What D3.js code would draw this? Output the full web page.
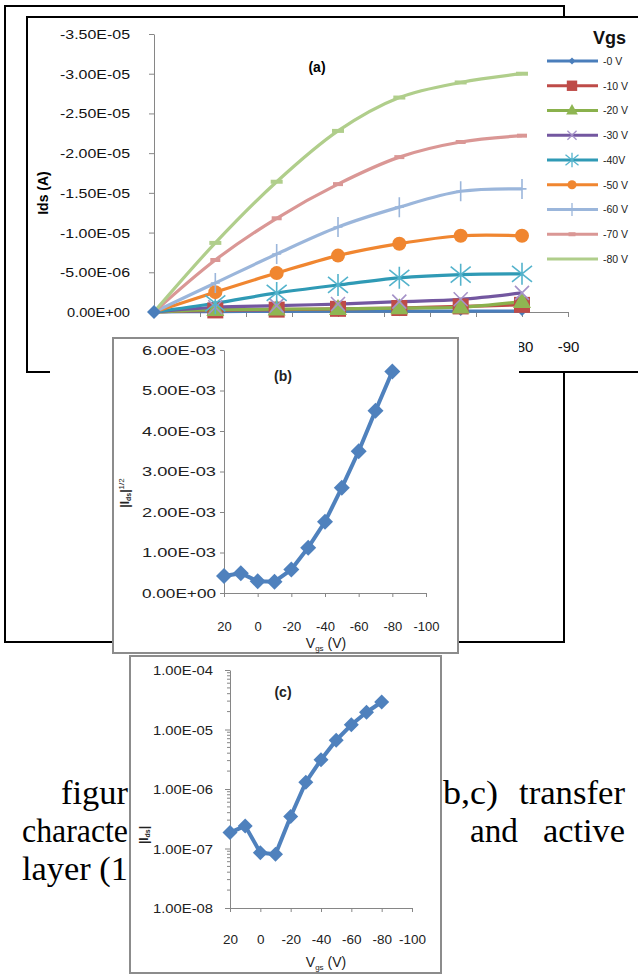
<!DOCTYPE html>
<html><head><meta charset="utf-8">
<script src="https://cdn.jsdelivr.net/npm/d3@7"></script>
<style>body{margin:0;background:#fff}svg{display:block}</style>
</head><body>
<svg id="c" width="638" height="976"></svg>
<script>
// ---------- DATA ----------
// (a) output characteristics
const vds = [0, -13.33, -26.67, -40, -53.33, -66.67, -80];
const vgsLabels = ["-0 V","-10 V","-20 V","-30 V","-40V","-50 V","-60 V","-70 V","-80 V"];
const ids_0  = [0, -5e-8, -8e-8, -1.0e-7, -1.0e-7, -1.2e-7, -1.2e-7];
const ids_10 = [0, -2e-7, -3e-7, -4e-7, -5e-7, -7e-7, -9e-7];
const ids_20 = [0, -3e-7, -3.5e-7, -4e-7, -5e-7, -6e-7, -1.3e-6];
const ids_30 = [0, -6e-7, -8e-7, -1.0e-6, -1.3e-6, -1.6e-6, -2.4e-6];
const ids_40 = [0, -1.1e-6, -2.4e-6, -3.4e-6, -4.3e-6, -4.7e-6, -4.8e-6];
const ids_50 = [0, -2.5e-6, -4.9e-6, -7.1e-6, -8.6e-6, -9.6e-6, -9.6e-6];
const ids_60 = [0, -3.65e-6, -7.3e-6, -1.07e-5, -1.32e-5, -1.52e-5, -1.55e-5];
const ids_70 = [0, -6.55e-6, -1.18e-5, -1.61e-5, -1.95e-5, -2.14e-5, -2.22e-5];
const ids_80 = [0, -8.7e-6, -1.64e-5, -2.28e-5, -2.70e-5, -2.89e-5, -3.00e-5];
const aYTicks = [0, -5e-6, -1e-5, -1.5e-5, -2e-5, -2.5e-5, -3e-5, -3.5e-5];
const aXTicks = [0, -10, -20, -30, -40, -50, -60, -70, -80, -90];
const aXVisibleLabels = [-80, -90];   // the rest are hidden behind panel (b)
// (b),(c) transfer characteristics
const vgsT = [20, 10, 0, -10, -20, -30, -40, -50, -60, -70, -80];
const sqrtIds = [0.42e-3, 0.49e-3, 0.29e-3, 0.28e-3, 0.58e-3, 1.12e-3, 1.76e-3, 2.60e-3, 3.50e-3, 4.50e-3, 5.47e-3];
const absIds = [1.85e-7, 2.4e-7, 8.5e-8, 8.0e-8, 3.45e-7, 1.3e-6, 3.1e-6, 6.6e-6, 1.2e-5, 1.95e-5, 2.9e-5];
const bYTicks = [0, 1e-3, 2e-3, 3e-3, 4e-3, 5e-3, 6e-3];
const cYTicks = [1e-8, 1e-7, 1e-6, 1e-5, 1e-4];
const tXTicks = [20, 0, -20, -40, -60, -80, -100];

// ---------- HELPERS ----------
function fmtE(v){
  if (v === 0) return "0.00E+00";
  const s = v.toExponential(2);
  const [m, e] = s.split("e");
  const sign = e[0] === "-" ? "-" : "+";
  return m + "E" + sign + String(Math.abs(+e)).padStart(2, "0");
}
function markerPath(type, s){
  switch(type){
    case "diamond": return `M0,${-s}L${s},0L0,${s}L${-s},0Z`;
    case "square": return `M${-s},${-s}H${s}V${s}H${-s}Z`;
    case "triangle": return `M0,${-s*1.1}L${s},${s*0.7}L${-s},${s*0.7}Z`;
    case "x": return `M${-s},${-s}L${s},${s}M${-s},${s}L${s},${-s}`;
    case "star": return `M${-s},${-s*0.8}L${s},${s*0.8}M${-s},${s*0.8}L${s},${-s*0.8}M0,${-s*1.1}V${s*1.1}`;
    case "circle": return `M${s},0A${s},${s} 0 1,1 ${-s},0A${s},${s} 0 1,1 ${s},0Z`;
    case "plus": return `M0,${-s}V${s}M${-s*0.45},0H${s*0.45}`;
    case "dash": return `M${-s},-2H${s}V2H${-s}Z`;
  }
}
const strokeTypes = new Set(["x","star","plus"]);

const svg = d3.select("#c");
const sans = "Liberation Sans, Arial, sans-serif";

// ---------- FRAMES ----------
svg.append("rect").attr("x",5).attr("y",6).attr("width",559).attr("height",636)
  .attr("fill","#fff").attr("stroke","#000").attr("stroke-width",2);
svg.append("rect").attr("x",27).attr("y",17).attr("width",640).attr("height",355)
  .attr("fill","#fff").attr("stroke","#000").attr("stroke-width",2);

// ---------- CHART (a) ----------
const xA = d3.scaleLinear().domain([0,-90]).range([154,568]);
const yA = d3.scaleLinear().domain([0,-3.5e-5]).range([312,34]);
const gA = svg.append("g");

const axA_y = gA.append("g").attr("transform","translate(154,0)")
  .call(d3.axisLeft(yA).tickValues(aYTicks).tickFormat(fmtE).tickSize(5).tickSizeOuter(0).tickPadding(19));
const axA_x = gA.append("g").attr("transform","translate(0,312)")
  .call(d3.axisBottom(xA).tickValues(aXTicks)
    .tickFormat(d => aXVisibleLabels.includes(d) ? String(d) : "")
    .tickSize(5).tickSizeOuter(0));
[axA_y, axA_x].forEach(a=>{
  a.select(".domain").attr("stroke","#868686");
  a.selectAll(".tick line").attr("stroke","#868686");
});
axA_y.selectAll("text").attr("font-family",sans).attr("font-size",13).attr("fill","#111").attr("dy","0.35em")
  .attr("textLength",function(){ return this.textContent.length > 8 ? 70 : 63; })
  .attr("lengthAdjust","spacingAndGlyphs");
axA_x.selectAll("text").attr("font-family",sans).attr("font-size",15).attr("fill","#111").attr("y",40).attr("dy",0);

gA.append("text").attr("transform","translate(48,193) rotate(-90)").attr("text-anchor","middle")
  .attr("font-family",sans).attr("font-weight","bold").attr("font-size",14).text("Ids (A)");
gA.append("text").attr("x",317).attr("y",72).attr("text-anchor","middle")
  .attr("font-family",sans).attr("font-weight","bold").attr("font-size",14).text("(a)");

const seriesA = [ids_0, ids_10, ids_20, ids_30, ids_40, ids_50, ids_60, ids_70, ids_80];
const stylesA = [
  {line:"#4A7EBB", mk:"diamond", ms:5,  fill:"#4A7EBB"},
  {line:"#BE4B48", mk:"square",  ms:8,  fill:"#BE4B48"},
  {line:"#8AB14C", mk:"triangle",ms:9,  fill:"#8FB652"},
  {line:"#7357A0", mk:"x",       ms:7,  fill:"#A592C8"},
  {line:"#2F9AB5", mk:"star",    ms:10, fill:"#54B3CC"},
  {line:"#F08630", mk:"circle",  ms:7,  fill:"#F08630"},
  {line:"#9BB6DB", mk:"plus",    ms:10, fill:"#9BB6DB"},
  {line:"#DA9795", mk:"dash",    ms:5,  fill:"#DA9795"},
  {line:"#B0CE8B", mk:"dash",    ms:6,  fill:"#B0CE8B"}
];
const lineA = d3.line().x((d,i)=>xA(vds[i])).y(d=>yA(d)).curve(d3.curveCatmullRom.alpha(0.5));
seriesA.forEach((s,k)=>{
  gA.append("path").attr("d",lineA(s)).attr("fill","none")
    .attr("stroke",stylesA[k].line).attr("stroke-width",3.2).attr("stroke-linejoin","round");
});
seriesA.forEach((s,k)=>{
  const st = stylesA[k];
  s.forEach((v,i)=>{
    if (i===0 && k!==0) return;
    const isStroke = strokeTypes.has(st.mk);
    gA.append("path").attr("transform",`translate(${xA(vds[i])},${yA(v)})`)
      .attr("d",markerPath(st.mk, k===0 && i===0 ? 7 : st.ms))
      .attr("fill", isStroke ? "none" : st.fill)
      .attr("stroke", isStroke ? st.fill : "none").attr("stroke-width",1.6);
  });
});
// legend
gA.append("text").attr("x",593).attr("y",44).attr("font-family",sans).attr("font-weight","bold")
  .attr("font-size",18).attr("fill","#111").text("Vgs");
const legY = d3.scaleLinear().domain([0,8]).range([61,259]);
vgsLabels.forEach((lab,k)=>{
  const st = stylesA[k], y = legY(k);
  gA.append("line").attr("x1",547).attr("x2",598).attr("y1",y).attr("y2",y)
    .attr("stroke",st.line).attr("stroke-width",3);
  if (k < 8){
    const isStroke = strokeTypes.has(st.mk);
    gA.append("path").attr("transform",`translate(572,${y})`)
      .attr("d",markerPath(st.mk, Math.max(3.5, st.ms*0.65)))
      .attr("fill", isStroke ? "none" : st.fill)
      .attr("stroke", isStroke ? st.fill : "none").attr("stroke-width",1.3);
  }
  gA.append("text").attr("x",603).attr("y",y+3.8).attr("font-family",sans).attr("font-size",10.5)
    .attr("fill","#222").text(lab);
});

// white cover under chart (a)
svg.append("rect").attr("x",50).attr("y",322).attr("width",469).attr("height",52).attr("fill","#fff");

// ---------- CHART (b) ----------
svg.append("rect").attr("x",113).attr("y",338).attr("width",345).attr("height",315)
  .attr("fill","#fff").attr("stroke","#8C8C8C").attr("stroke-width",2);
const xB = d3.scaleLinear().domain([20,-100]).range([224,426]);
const yB = d3.scaleLinear().domain([0,6e-3]).range([593,350]);
const gB = svg.append("g");
const axB_y = gB.append("g").attr("transform","translate(224,0)")
  .call(d3.axisLeft(yB).tickValues(bYTicks).tickFormat(fmtE).tickSize(4).tickSizeOuter(0).tickPadding(4));
const axB_x = gB.append("g").attr("transform","translate(0,593)")
  .call(d3.axisBottom(xB).tickValues(tXTicks).tickFormat(d=>String(d)).tickSize(4).tickSizeOuter(0));
[axB_y, axB_x].forEach(a=>{
  a.select(".domain").attr("stroke","#868686");
  a.selectAll(".tick line").attr("stroke","#868686");
});
axB_y.selectAll("text").attr("font-family",sans).attr("font-size",12.5).attr("fill","#222")
  .attr("dy","0.35em").attr("textLength",74).attr("lengthAdjust","spacingAndGlyphs");
axB_x.selectAll("text").attr("font-family",sans).attr("font-size",13).attr("fill","#222")
  .attr("y",38).attr("dy",0);
gB.append("text").attr("x",283).attr("y",381).attr("text-anchor","middle")
  .attr("font-family",sans).attr("font-weight","bold").attr("font-size",14).attr("fill","#222").text("(b)");
const tB = gB.append("text").attr("transform","translate(129,493) rotate(-90)").attr("text-anchor","middle")
  .attr("font-family",sans).attr("font-weight","bold").attr("font-size",12).attr("fill","#222");
tB.append("tspan").text("|I");
tB.append("tspan").attr("font-size",7).attr("dy",2).text("ds");
tB.append("tspan").attr("dy",-2).text("|");
tB.append("tspan").attr("font-size",8).attr("dy",-5).attr("font-weight","normal").text("1/2");
const xtB = gB.append("text").attr("x",326).attr("y",648).attr("text-anchor","middle")
  .attr("font-family",sans).attr("font-size",14).attr("fill","#222");
xtB.append("tspan").text("V");
xtB.append("tspan").attr("font-size",8).attr("dy",3).text("gs");
xtB.append("tspan").attr("dy",-3).text(" (V)");
const lineT = d3.line().x((d,i)=>xB(vgsT[i])).y(d=>yB(d));
gB.append("path").attr("d",lineT(sqrtIds)).attr("fill","none").attr("stroke","#4F81BD")
  .attr("stroke-width",4).attr("stroke-linejoin","round");
sqrtIds.forEach((v,i)=>{
  gB.append("path").attr("transform",`translate(${xB(vgsT[i])},${yB(v)})`)
    .attr("d",markerPath("diamond",8)).attr("fill","#4F81BD");
});

// ---------- CAPTION TEXT (visible fragments) ----------
const serif = "Liberation Serif, Times New Roman, serif";
const cap = svg.append("g").attr("font-family",serif).attr("font-size",33).attr("fill","#000");
function capText(x, y, str, len, anchor){
  const t = cap.append("text").attr("x",x).attr("y",y).text(str)
    .attr("textLength",len).attr("lengthAdjust","spacingAndGlyphs");
  if (anchor) t.attr("text-anchor",anchor);
}
capText(61, 804, "figur", 67);
capText(443, 804, "b,c)", 55);
capText(625, 804, "transfer", 106, "end");
capText(22, 842, "characte", 106);
capText(470, 842, "and", 48);
capText(625, 842, "active", 82, "end");
capText(22, 880, "layer (1", 106);

// ---------- CHART (c) ----------
svg.append("rect").attr("x",130).attr("y",656).attr("width",311).attr("height",317)
  .attr("fill","#fff").attr("stroke","#8C8C8C").attr("stroke-width",2);
const xC = d3.scaleLinear().domain([20,-100]).range([230,412]);
const yC = d3.scaleLog().domain([1e-8,1e-4]).range([908,670]);
const gC = svg.append("g");
const axC_y = gC.append("g").attr("transform","translate(230,0)")
  .call(d3.axisLeft(yC).tickValues(cYTicks).tickFormat(fmtE).tickSize(5).tickSizeOuter(0).tickPadding(12));
const axC_x = gC.append("g").attr("transform","translate(0,908)")
  .call(d3.axisBottom(xC).tickValues(tXTicks).tickFormat(d=>String(d)).tickSize(4).tickSizeOuter(0));
[axC_y, axC_x].forEach(a=>{
  a.select(".domain").attr("stroke","#868686");
  a.selectAll(".tick line").attr("stroke","#868686");
});
// minor log ticks
const minor = [];
for (let e=-8; e<-4; e++) for (let k=2; k<10; k++) minor.push(k*Math.pow(10,e));
gC.selectAll(".mt").data(minor).enter().append("line")
  .attr("x1",227).attr("x2",230).attr("y1",d=>yC(d)).attr("y2",d=>yC(d)).attr("stroke","#868686");
axC_y.selectAll("text").attr("font-family",sans).attr("font-size",13).attr("fill","#222")
  .attr("dy","0.35em").attr("textLength",60).attr("lengthAdjust","spacingAndGlyphs");
axC_x.selectAll("text").attr("font-family",sans).attr("font-size",13.5).attr("fill","#222")
  .attr("y",36).attr("dy",0);
gC.append("text").attr("x",283).attr("y",697).attr("text-anchor","middle")
  .attr("font-family",sans).attr("font-weight","bold").attr("font-size",14).attr("fill","#222").text("(c)");
const tC = gC.append("text").attr("transform","translate(148,835) rotate(-90)").attr("text-anchor","middle")
  .attr("font-family",sans).attr("font-weight","bold").attr("font-size",12).attr("fill","#222");
tC.append("tspan").text("|I");
tC.append("tspan").attr("font-size",7).attr("dy",2).text("ds");
tC.append("tspan").attr("dy",-2).text("|");
const xtC = gC.append("text").attr("x",326).attr("y",967).attr("text-anchor","middle")
  .attr("font-family",sans).attr("font-size",14).attr("fill","#222");
xtC.append("tspan").text("V");
xtC.append("tspan").attr("font-size",8).attr("dy",3).text("gs");
xtC.append("tspan").attr("dy",-3).text(" (V)");
const lineC = d3.line().x((d,i)=>xC(vgsT[i])).y(d=>yC(d));
gC.append("path").attr("d",lineC(absIds)).attr("fill","none").attr("stroke","#4F81BD")
  .attr("stroke-width",4).attr("stroke-linejoin","round");
absIds.forEach((v,i)=>{
  gC.append("path").attr("transform",`translate(${xC(vgsT[i])},${yC(v)})`)
    .attr("d",markerPath("diamond",7.5)).attr("fill","#4F81BD");
});
</script>
</body></html>
